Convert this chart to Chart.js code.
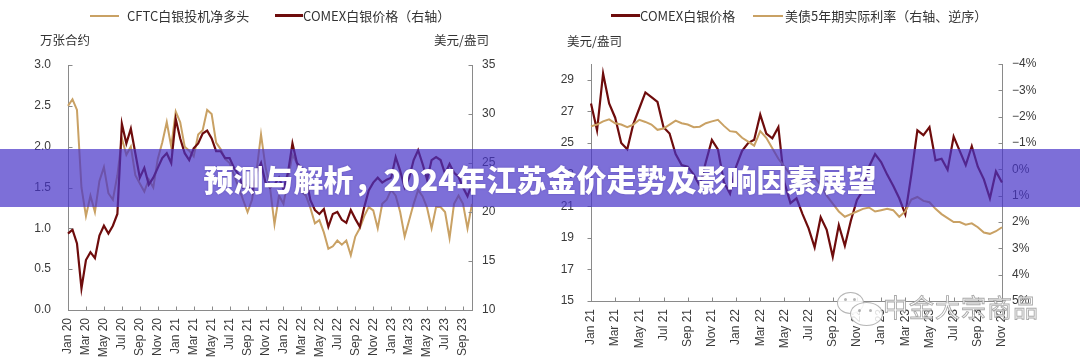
<!DOCTYPE html>
<html>
<head>
<meta charset="utf-8">
<script src="https://cdn.jsdelivr.net/npm/chart.js@4.4.1/dist/chart.umd.min.js"></script>
<style>
  html, body { margin:0; padding:0; background:#fff; }
  body { width:1080px; height:357px; position:relative; overflow:hidden; font-family:"Noto Sans CJK SC", sans-serif; }
  .wrap { position:absolute; top:0; width:540px; height:357px; }
  .lg-line { position:absolute; height:2px; }
  .lg-text { position:absolute; font-size:13px; line-height:16px; color:#333; white-space:nowrap; }
  .unit { position:absolute; font-size:12.5px; line-height:16px; color:#333; white-space:nowrap; }
  .banner { position:absolute; left:0; top:149px; width:1080px; height:58px; background:rgba(70,50,200,0.7);
            color:#fff; font-weight:900; font-size:30px; line-height:58px; text-align:center;
            text-shadow:0 0 2px rgba(60,40,150,0.5); }
  .wm { position:absolute; left:883px; top:291px; font-size:25px; line-height:30px; color:rgba(255,255,255,0.85);
        -webkit-text-stroke:0.9px rgba(140,140,140,0.75); white-space:nowrap; letter-spacing:1px; }
  .bub { position:absolute; border:1.3px solid rgba(150,150,150,0.7); border-radius:50%; background:rgba(255,255,255,0.85); }
  .dot { position:absolute; width:3px; height:3px; border-radius:50%; background:rgba(150,150,150,0.7); }
</style>
</head>
<body>
<div class="wrap" style="left:0"><canvas id="cL" width="540" height="357"></canvas></div>
<div class="wrap" style="left:540px"><canvas id="cR" width="540" height="357"></canvas></div>

<!-- left legend -->
<div class="lg-line" style="left:90px;top:14.5px;width:29px;height:2.5px;background:#c9a164"></div>
<div class="lg-text" style="left:127px;top:7.5px">CFTC白银投机净多头</div>
<div class="lg-line" style="left:275px;top:14px;width:28px;height:2.5px;background:#6e0c0c"></div>
<div class="lg-text" style="left:303px;top:7.5px">COMEX白银价格（右轴）</div>
<div class="unit" style="left:40px;top:31.5px">万张合约</div>
<div class="unit" style="left:434px;top:31.5px">美元/盎司</div>

<!-- right legend -->
<div class="lg-line" style="left:611px;top:14px;width:29px;height:2.5px;background:#6e0c0c"></div>
<div class="lg-text" style="left:640px;top:7.5px">COMEX白银价格</div>
<div class="lg-line" style="left:753px;top:14.5px;width:30px;height:2.5px;background:#c9a164"></div>
<div class="lg-text" style="left:785px;top:7.5px">美债5年期实际利率（右轴、逆序）</div>
<div class="unit" style="left:567px;top:33px">美元/盎司</div>

<div class="banner">预测与解析，2024年江苏金价走势及影响因素展望</div>

<div class="bub" style="left:837px;top:292px;width:25px;height:20px"></div>
<div class="dot" style="left:844px;top:298px"></div>
<div class="dot" style="left:853px;top:298px"></div>
<div class="bub" style="left:850px;top:302px;width:31px;height:22px"></div>
<div class="dot" style="left:858px;top:309px"></div>
<div class="dot" style="left:869px;top:309px"></div>
<div class="wm">中金大宗商品</div>

<script>
// ---------------- DATA ----------------
// Left chart: half-month periods Jan 2020 – mid Oct 2023
const leftTickLabels = ['Jan 20','Mar 20','May 20','Jul 20','Sep 20','Nov 20','Jan 21','Mar 21','May 21','Jul 21','Sep 21','Nov 21',
  'Jan 22','Mar 22','May 22','Jul 22','Sep 22','Nov 22','Jan 23','Mar 23','May 23','Jul 23','Sep 23'];
const leftNetTicks = [0, 0.5, 1.0, 1.5, 2.0, 2.5, 3.0];
const leftPriceTicks = [10, 15, 20, 25, 30, 35];

// CFTC 白银投机净多头 (万张合约)
const leftCftc = [
  2.50,2.58,2.45,1.50,1.15,1.40,1.20,1.58,1.75,1.43,
  1.35,1.65,2.10,1.90,2.00,1.65,1.55,1.45,1.60,1.50,
  1.85,2.05,2.30,2.00,2.43,2.30,2.00,1.95,1.88,2.15,
  2.20,2.45,2.40,2.05,1.97,1.85,1.80,1.65,1.50,1.35,
  1.20,1.35,1.70,2.15,1.75,1.50,1.05,1.40,1.30,1.60,
  1.90,1.80,1.45,1.40,1.25,1.06,1.10,0.95,0.75,0.78,
  0.85,0.80,0.85,0.67,0.90,1.00,1.15,1.26,1.22,1.00,
  1.30,1.35,1.47,1.40,1.20,0.90,1.10,1.30,1.47,1.39,
  1.25,1.00,1.26,1.26,1.20,0.88,1.30,1.40,1.30,1.00,
  1.30];
// COMEX 白银价格 (美元/盎司, 右轴)
const leftComex = [
  17.8,18.2,16.8,12.2,15.1,15.9,15.3,17.6,18.6,17.8,
  18.6,19.8,29.0,27.0,28.5,26.0,23.5,24.5,22.8,23.5,
  24.5,25.5,26.0,25.0,29.5,27.5,26.0,25.3,26.5,27.0,
  28.0,28.3,27.5,26.2,26.2,25.5,25.5,24.5,23.8,22.5,
  22.8,22.0,24.0,25.0,23.0,22.5,22.8,23.5,22.3,24.0,
  27.0,25.0,24.5,23.5,21.2,20.2,19.8,20.3,18.5,19.8,
  20.0,19.2,18.9,20.2,19.3,18.5,20.5,22.2,23.0,23.5,
  23.0,23.3,23.5,25.6,24.2,22.5,23.5,25.3,26.3,24.9,
  23.3,25.3,25.6,25.3,23.9,24.9,24.0,23.6,22.5,21.6,
  22.9];

// Right chart: half-month periods Jan 2021 – Nov 2023
const rightTickLabels = ['Jan 21','Mar 21','May 21','Jul 21','Sep 21','Nov 21','Jan 22','Mar 22','May 22','Jul 22','Sep 22','Nov 22',
  'Jan 23','Mar 23','May 23','Jul 23','Sep 23','Nov 23'];
const rightPriceTicks = [15, 17, 19, 21, 23, 25, 27, 29];
const rightRateTicks = [-4, -3, -2, -1, 0, 1, 2, 3, 4, 5];

// COMEX 白银价格 (美元/盎司)
const rightComex = [
  27.5,25.8,29.4,27.5,26.6,25.0,24.6,26.2,27.2,28.2,
  27.9,27.6,26.0,25.6,24.3,23.6,23.5,23.0,22.3,23.8,
  25.2,24.6,22.5,21.8,23.5,24.5,25.0,25.2,26.8,25.6,
  25.3,26.0,22.5,21.2,21.5,20.5,19.6,18.4,20.3,19.5,
  17.8,19.8,18.5,20.1,21.4,22.0,23.5,24.3,23.8,23.0,
  22.3,21.5,20.5,23.0,25.8,25.5,26.0,23.9,24.0,23.3,
  25.4,24.5,23.6,24.8,23.5,22.7,21.5,23.2,22.5];
// 美债5年期实际利率 (%, 右轴逆序)
const rightRate = [
  -1.63,-1.70,-1.82,-1.90,-1.75,-1.70,-1.60,-1.70,-1.88,-1.80,
  -1.70,-1.50,-1.55,-1.70,-1.85,-1.75,-1.70,-1.60,-1.62,-1.75,
  -1.82,-1.88,-1.65,-1.45,-1.42,-1.20,-1.05,-0.90,-1.45,-1.20,
  -0.80,-0.40,-0.10,0.20,0.40,0.70,0.50,0.30,0.60,1.00,
  1.30,1.60,1.80,1.70,1.60,1.50,1.45,1.60,1.55,1.50,
  1.55,1.80,1.60,1.15,1.05,1.20,1.25,1.50,1.70,1.85,
  2.00,2.00,2.10,2.05,2.20,2.40,2.45,2.35,2.20];

// period category labels (half months)
function halfMonths(startYear, n) {
  const out = [];
  for (let i = 0; i < n; i++) {
    const mIdx = Math.floor(i / 2);
    const y = startYear + Math.floor(mIdx / 12);
    const m = (mIdx % 12) + 1;
    out.push(y + '-' + String(m).padStart(2, '0') + (i % 2 ? '下' : '上'));
  }
  return out;
}
const leftPeriods = halfMonths(2020, leftCftc.length);
const rightPeriods = halfMonths(2021, rightComex.length);

// ---------------- STYLE ----------------
const TAN = '#c9a164';
const MAROON = '#6e0c0c';
const AXIS = '#8a8a8a';
const TXT = '#3a3a3a';
const tickFont = { family: '"Liberation Sans", Arial, sans-serif', size: 12 };

const tickMarks = {
  id: 'tickMarks',
  afterDraw(chart, args, opts) {
    const ctx = chart.ctx;
    ctx.save();
    ctx.strokeStyle = AXIS;
    ctx.lineWidth = 1;
    const L = 4;
    for (const id in opts.dirs) {
      const s = chart.scales[id];
      const dir = opts.dirs[id];
      s.ticks.forEach((t, i) => {
        const p = Math.round(s.getPixelForTick(i)) + 0.5;
        ctx.beginPath();
        if (s.isHorizontal()) {
          const y0 = Math.round(s.top) + 0.5;
          ctx.moveTo(p, y0);
          ctx.lineTo(p, dir === 'in' ? y0 - L : y0 + L);
        } else {
          const left = s.position === 'left';
          const x0 = Math.round(left ? s.right : s.left) + 0.5;
          const sign = (left === (dir === 'in')) ? 1 : -1;
          ctx.moveTo(x0, p);
          ctx.lineTo(x0 + sign * L, p);
        }
        ctx.stroke();
      });
    }
    ctx.restore();
  }
};

function xScale(tickLabels, height) {
  return {
    type: 'category',
    offset: false,
    grid: { display: true, drawOnChartArea: false, drawTicks: false },
    border: { display: true, color: AXIS, width: 1 },
    ticks: {
      autoSkip: false, maxRotation: 90, minRotation: 90, padding: 8,
      font: tickFont, color: TXT,
      callback: (v) => tickLabels[v / 4]
    },
    afterBuildTicks: (s) => { s.ticks = s.ticks.filter(t => t.value % 4 === 0); },
    afterFit: (s) => { s.height = height; }
  };
}
function yScale(pos, min, max, tickVals, width, pad, fmt, reverse) {
  return {
    type: 'linear', position: pos, min: min, max: max, reverse: !!reverse,
    grid: { display: true, drawOnChartArea: false, drawTicks: false },
    border: { display: true, color: AXIS, width: 1 },
    ticks: { padding: pad, font: tickFont, color: TXT, callback: fmt },
    afterBuildTicks: (s) => { s.ticks = tickVals.map(v => ({ value: v })); },
    afterFit: (s) => { s.width = width; }
  };
}

// ---------------- LEFT CHART ----------------
new Chart(document.getElementById('cL'), {
  type: 'line',
  data: {
    labels: leftPeriods,
    datasets: [
      { label: 'CFTC白银投机净多头', data: leftCftc, yAxisID: 'y', borderColor: TAN, borderWidth: 2,
        pointRadius: 0, tension: 0, order: 1 },
      { label: 'COMEX白银价格（右轴）', data: leftComex, yAxisID: 'y1', borderColor: MAROON, borderWidth: 2.2,
        pointRadius: 0, tension: 0, order: 0 }
    ]
  },
  options: {
    responsive: false, animation: false, events: [],
    layout: { padding: { top: 65, left: 0, right: 0, bottom: 0 } },
    plugins: { legend: { display: false }, tooltip: { enabled: false },
      tickMarks: { dirs: { x: 'in', y: 'in', y1: 'in' } } },
    scales: {
      x: xScale(leftTickLabels, 47),
      y: yScale('left', 0, 3, leftNetTicks, 68, 17, v => v.toFixed(1)),
      y1: yScale('right', 10, 35, leftPriceTicks, 68, 10, v => String(v))
    }
  },
  plugins: [tickMarks]
});

// ---------------- RIGHT CHART ----------------
new Chart(document.getElementById('cR'), {
  type: 'line',
  data: {
    labels: rightPeriods,
    datasets: [
      { label: 'COMEX白银价格', data: rightComex, yAxisID: 'y', borderColor: MAROON, borderWidth: 2.2,
        pointRadius: 0, tension: 0, order: 1 },
      { label: '美债5年期实际利率（右轴、逆序）', data: rightRate, yAxisID: 'y1', borderColor: TAN, borderWidth: 2,
        pointRadius: 0, tension: 0, order: 0 }
    ]
  },
  options: {
    responsive: false, animation: false, events: [],
    layout: { padding: { top: 64, left: 0, right: 0, bottom: 0 } },
    plugins: { legend: { display: false }, tooltip: { enabled: false },
      tickMarks: { dirs: { x: 'in', y: 'out', y1: 'in' } } },
    scales: {
      x: xScale(rightTickLabels, 56),
      y: yScale('left', 15, 30, rightPriceTicks, 51, 17, v => String(v)),
      y1: yScale('right', -4, 5, rightRateTicks, 78, 10, v => (v < 0 ? '−' : '') + Math.abs(v) + '%', true)
    }
  },
  plugins: [tickMarks]
});
</script>
</body>
</html>
